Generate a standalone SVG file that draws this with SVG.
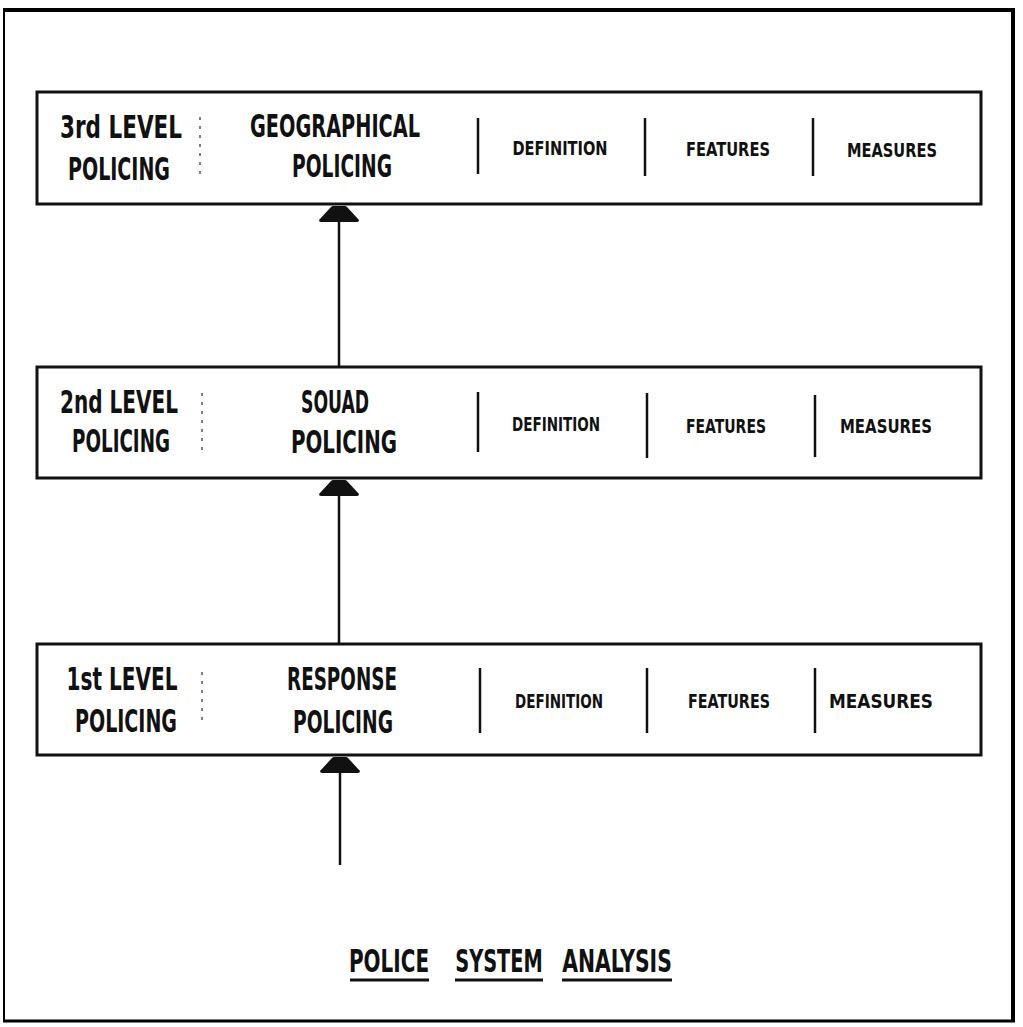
<svg xmlns="http://www.w3.org/2000/svg" width="1023" height="1027" viewBox="0 0 1023 1027">
<style>
  .box{fill:#fff;stroke:#111;stroke-width:3}
  .div{stroke:#111;stroke-width:2.5}
  .dash{stroke:#555;stroke-width:1.5;stroke-dasharray:3 6}
  .big{font-family:"DejaVu Sans Condensed","Liberation Sans Narrow","Liberation Sans",sans-serif;font-weight:bold;font-size:32px;fill:#111;text-anchor:middle}
  .small{font-family:"DejaVu Sans Condensed","Liberation Sans Narrow","Liberation Sans",sans-serif;font-weight:bold;font-size:19px;fill:#111;text-anchor:middle}
  .conn{stroke:#111;stroke-width:2.5;fill:none}
  .ul{stroke:#111;stroke-width:3}
</style>
<defs>
  <marker id="ah" markerUnits="userSpaceOnUse" viewBox="0 0 16 42" refX="16" refY="21" markerWidth="16" markerHeight="42" orient="auto">
    <path d="M0,3 Q0,1 2,1 L15,13 Q16,14 16,15 L16,27 Q16,28 15,29 L2,41 Q0,41 0,39 Z" fill="#111"/>
  </marker>
</defs>
<rect width="1023" height="1027" fill="#fff"/>
<g id="frame">
  <line x1="3" y1="10" x2="1015" y2="10" stroke="#000" stroke-width="4"/>
  <line x1="4" y1="10" x2="4" y2="1021" stroke="#000" stroke-width="2"/>
  <line x1="1013" y1="10" x2="1013" y2="1021" stroke="#000" stroke-width="4"/>
  <line x1="3" y1="1021" x2="1015" y2="1021" stroke="#000" stroke-width="3"/>
</g>
<g id="connectors">
  <line class="conn" x1="339" y1="367" x2="339" y2="206" marker-end="url(#ah)"/>
  <line class="conn" x1="339" y1="644" x2="339" y2="480" marker-end="url(#ah)"/>
  <line class="conn" x1="340" y1="865" x2="340" y2="757" marker-end="url(#ah)"/>
</g>
<g id="level3">
  <rect class="box" x="37" y="92" width="944" height="112"/>
  <line class="dash" x1="200" y1="117" x2="200" y2="178"/>
  <line class="div" x1="478" y1="118" x2="478" y2="174"/>
  <line class="div" x1="645" y1="118" x2="645" y2="176"/>
  <line class="div" x1="813" y1="118" x2="813" y2="176"/>
  <text class="big" x="121" y="138" textLength="122" lengthAdjust="spacingAndGlyphs">3rd LEVEL</text>
  <text class="big" x="119" y="180" textLength="102" lengthAdjust="spacingAndGlyphs">POLICING</text>
  <text class="big" x="335" y="137" textLength="170" lengthAdjust="spacingAndGlyphs">GEOGRAPHICAL</text>
  <text class="big" x="342" y="177" textLength="100" lengthAdjust="spacingAndGlyphs">POLICING</text>
  <text class="small" x="560" y="155" textLength="95" lengthAdjust="spacingAndGlyphs">DEFINITION</text>
  <text class="small" x="728" y="156" textLength="84" lengthAdjust="spacingAndGlyphs">FEATURES</text>
  <text class="small" x="892" y="157" textLength="90" lengthAdjust="spacingAndGlyphs">MEASURES</text>
</g>
<g id="level2">
  <rect class="box" x="37" y="367" width="944" height="111"/>
  <line class="dash" x1="202" y1="393" x2="202" y2="450"/>
  <line class="div" x1="478" y1="392" x2="478" y2="452"/>
  <line class="div" x1="647" y1="393" x2="647" y2="458"/>
  <line class="div" x1="815" y1="395" x2="815" y2="457"/>
  <text class="big" x="119" y="413" textLength="118" lengthAdjust="spacingAndGlyphs">2nd LEVEL</text>
  <text class="big" x="121" y="452" textLength="98" lengthAdjust="spacingAndGlyphs">POLICING</text>
  <text class="big" x="335" y="413" textLength="68" lengthAdjust="spacingAndGlyphs">SOUAD</text>
  <text class="big" x="344" y="453" textLength="106" lengthAdjust="spacingAndGlyphs">POLICING</text>
  <text class="small" x="556" y="431" textLength="88" lengthAdjust="spacingAndGlyphs">DEFINITION</text>
  <text class="small" x="726" y="433" textLength="80" lengthAdjust="spacingAndGlyphs">FEATURES</text>
  <text class="small" x="886" y="433" textLength="92" lengthAdjust="spacingAndGlyphs">MEASURES</text>
</g>
<g id="level1">
  <rect class="box" x="37" y="644" width="944" height="111"/>
  <line class="dash" x1="202" y1="672" x2="202" y2="725"/>
  <line class="div" x1="480" y1="668" x2="480" y2="733"/>
  <line class="div" x1="647" y1="668" x2="647" y2="733"/>
  <line class="div" x1="815" y1="668" x2="815" y2="733"/>
  <text class="big" x="122" y="690" textLength="111" lengthAdjust="spacingAndGlyphs">1st LEVEL</text>
  <text class="big" x="126" y="732" textLength="102" lengthAdjust="spacingAndGlyphs">POLICING</text>
  <text class="big" x="342" y="690" textLength="110" lengthAdjust="spacingAndGlyphs">RESPONSE</text>
  <text class="big" x="343" y="733" textLength="100" lengthAdjust="spacingAndGlyphs">POLICING</text>
  <text class="small" x="559" y="708" textLength="88" lengthAdjust="spacingAndGlyphs">DEFINITION</text>
  <text class="small" x="729" y="708" textLength="82" lengthAdjust="spacingAndGlyphs">FEATURES</text>
  <text class="small" x="881" y="708" textLength="104" lengthAdjust="spacingAndGlyphs">MEASURES</text>
</g>
<g id="title">
  <text class="big" transform="translate(389,972) scale(0.69,1)" x="0" y="0" textLength="116" lengthAdjust="spacingAndGlyphs">POLICE</text>
  <text class="big" transform="translate(499,972) scale(0.69,1)" x="0" y="0" textLength="127" lengthAdjust="spacingAndGlyphs">SYSTEM</text>
  <text class="big" transform="translate(617,972) scale(0.69,1)" x="0" y="0" textLength="159" lengthAdjust="spacingAndGlyphs">ANALYSIS</text>
  <line class="ul" x1="350" y1="980" x2="429" y2="980"/>
  <line class="ul" x1="455" y1="980" x2="543" y2="980"/>
  <line class="ul" x1="562" y1="980" x2="672" y2="980"/>
</g>
</svg>
